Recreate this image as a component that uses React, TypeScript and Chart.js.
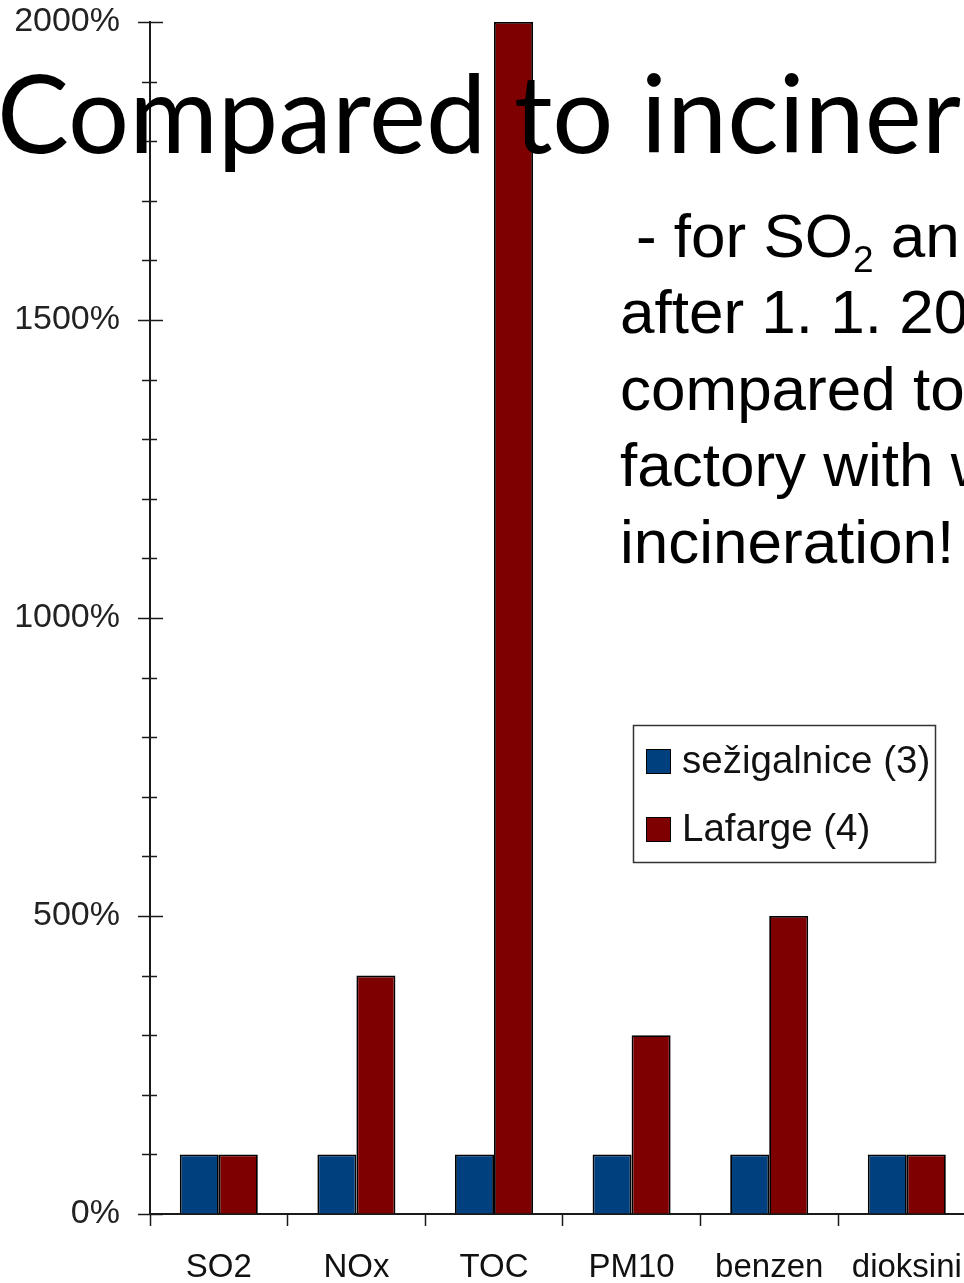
import React, { useEffect, useRef } from "react";
import { Chart, registerables } from "chart.js";

Chart.register(...registerables);

// ---- data ----
const categories = ["SO2", "NOx", "TOC", "PM10", "benzen", "dioksini"];
const incineratorValues = [100, 100, 100, 100, 100, 100];
const lafargeValues = [100, 400, 2000, 300, 500, 100];
const seriesLabels = ["sežigalnice (3)", "Lafarge (4)"];
const yMin = 0;
const yMax = 2000;
const yMinorStep = 100;
const yMajorStep = 500;
const titleText = "Compared to inciner";
const noteLines = ["after 1. 1. 20", "compared to", "factory with w", "incineration!"];

const BLUE = "#00407f";
const RED = "#7f0000";
const AXIS = "#1a1a1a";

const CANVAS_W = 1000;
const CANVAS_H = 1283;

const axisTicksPlugin = {
  id: "axisTicksCross",
  afterDatasetsDraw(chart: any) {
    const y = chart.scales.y;
    const ctx = chart.ctx;
    const x0 = chart.chartArea.left;
    ctx.save();
    ctx.strokeStyle = AXIS;
    ctx.lineWidth = 1.5;
    y.ticks.forEach((t: any) => {
      const py = Math.round(y.getPixelForValue(t.value)) + 0.5;
      const major = t.value % yMajorStep === 0;
      ctx.beginPath();
      ctx.moveTo(x0 - (major ? 12 : 8), py);
      ctx.lineTo(x0 + (major ? 13 : 7), py);
      ctx.stroke();
    });
    ctx.restore();
  },
};

const boxLegendPlugin = {
  id: "boxLegend",
  afterDraw(chart: any) {
    const ctx = chart.ctx;
    ctx.save();
    const bx = 633, by = 725, bw = 302, bh = 137;
    ctx.fillStyle = "#ffffff";
    ctx.fillRect(bx, by, bw, bh);
    ctx.strokeStyle = "#333333";
    ctx.lineWidth = 1.5;
    ctx.strokeRect(bx + 0.5, by + 0.5, bw, bh);
    chart.data.datasets.forEach((ds: any, i: number) => {
      const cy = 761.5 + i * 68;
      ctx.fillStyle = ds.backgroundColor;
      ctx.fillRect(646, cy - 12.5, 25, 25);
      ctx.strokeStyle = "#000";
      ctx.lineWidth = 1;
      ctx.strokeRect(646.5, cy - 12, 24, 24);
      ctx.fillStyle = "#111";
      ctx.font = '38.5px "Liberation Sans", Arial, sans-serif';
      ctx.textBaseline = "middle";
      ctx.textAlign = "left";
      ctx.fillText(ds.label, 682, cy + 1);
    });
    ctx.restore();
  },
};

function BarChart() {
  const ref = useRef<HTMLCanvasElement | null>(null);
  useEffect(() => {
    if (!ref.current) return;
    const chart = new Chart(ref.current, {
      type: "bar",
      data: {
        labels: categories,
        datasets: [
          {
            label: seriesLabels[0],
            data: incineratorValues,
            backgroundColor: BLUE,
            borderColor: "#000",
            borderWidth: 1.8,
            categoryPercentage: 0.567,
            barPercentage: 1,
          },
          {
            label: seriesLabels[1],
            data: lafargeValues,
            backgroundColor: RED,
            borderColor: "#000",
            borderWidth: 1.8,
            categoryPercentage: 0.567,
            barPercentage: 1,
          },
        ],
      },
      options: {
        responsive: false,
        animation: false,
        layout: { padding: { top: 22, right: CANVAS_W - 975.6, bottom: 0, left: 0 } },
        plugins: {
          legend: { display: false },
          tooltip: { enabled: false },
          title: { display: false },
        },
        scales: {
          x: {
            offset: true,
            grid: {
              display: true,
              offset: true,
              drawOnChartArea: false,
              drawTicks: true,
              tickLength: 12,
              tickColor: AXIS,
              tickWidth: 1.5,
            },
            border: { display: true, color: AXIS, width: 2 },
            ticks: {
              autoSkip: false,
              maxRotation: 0,
              padding: 22,
              color: "#111",
              font: { family: '"Liberation Sans", Arial, sans-serif', size: 33 },
            },
            afterFit(scale: any) {
              scale.height = 69;
              scale.paddingLeft = 0;
              scale.paddingRight = 0;
            },
          },
          y: {
            min: yMin,
            max: yMax,
            grid: { display: true, drawOnChartArea: false, drawTicks: false },
            border: { display: true, color: AXIS, width: 2 },
            ticks: {
              stepSize: yMinorStep,
              autoSkip: false,
              padding: 30,
              color: "#222",
              font: { family: '"Liberation Sans", Arial, sans-serif', size: 34 },
              callback: (v: any) => (Number(v) % yMajorStep === 0 ? `${v}%` : ""),
            },
            afterFit(scale: any) {
              scale.width = 150;
              scale.paddingTop = 0;
              scale.paddingBottom = 0;
            },
          },
        },
      },
      plugins: [axisTicksPlugin, boxLegendPlugin],
    });
    return () => chart.destroy();
  }, []);
  return (
    <canvas
      ref={ref}
      width={CANVAS_W}
      height={CANVAS_H}
      style={{ display: "block", width: CANVAS_W, height: CANVAS_H }}
    />
  );
}

export default function App() {
  const noteFont = '"Liberation Sans", Arial, sans-serif';
  return (
    <div
      style={{
        position: "fixed",
        left: 0,
        top: 0,
        width: 964,
        height: 1283,
        overflow: "hidden",
        background: "#fff",
      }}
    >
      <BarChart />
      <svg
        width={964}
        height={1283}
        style={{ position: "absolute", left: 0, top: 0, pointerEvents: "none" }}
      >
        <text
          x={-3}
          y={153}
          fontFamily="Lato, 'Open Sans', sans-serif"
          fontSize={109}
          fill="#000"
          textLength={964}
          lengthAdjust="spacingAndGlyphs"
        >
          {titleText}
        </text>
        <text x={636} y={257} fontFamily={noteFont} fontSize={62} fill="#000">
          - for SO
          <tspan dy={15} fontSize={37}>2</tspan>
          <tspan dy={-15}> an</tspan>
        </text>
        {noteLines.map((line, i) => (
          <text
            key={i}
            x={620}
            y={333 + i * 76.5}
            fontFamily={noteFont}
            fontSize={62}
            fill="#000"
          >
            {line}
          </text>
        ))}
      </svg>
    </div>
  );
}
